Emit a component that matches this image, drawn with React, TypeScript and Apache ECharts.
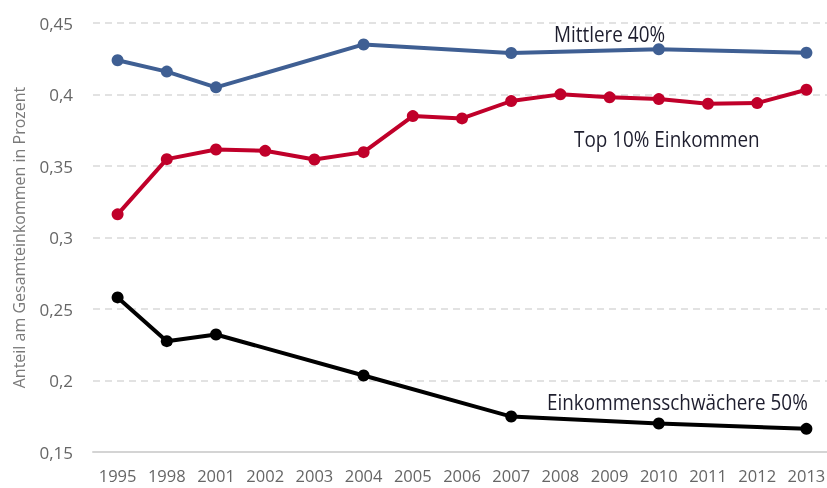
import React, { useEffect, useRef } from "react";
import * as echarts from "echarts";

const years = ["1995", "1998", "2001", "2002", "2003", "2004", "2005", "2006", "2007", "2008", "2009", "2010", "2011", "2012", "2013"];
const middle40 = [0.424, 0.416, 0.405, null, null, 0.435, null, null, 0.429, null, null, 0.4316, null, null, 0.4292];
const top10 = [0.3162, 0.3548, 0.3615, 0.3606, 0.3545, 0.3597, 0.3849, 0.3833, 0.3954, 0.4001, 0.398, 0.3968, 0.3935, 0.394, 0.4033];
const bottom50 = [0.2581, 0.2275, 0.2322, null, null, 0.2035, null, null, 0.1748, null, null, 0.1699, null, null, 0.1662];
const yAxisName = "Anteil am Gesamteinkommen in Prozent";
const seriesNames = ["Mittlere 40%", "Top 10% Einkommen", "Einkommensschwächere 50%"];

const FONT = "Open Sans";

export default function App() {
  const ref = useRef<HTMLDivElement>(null);
  useEffect(() => {
    if (!ref.current) return;
    const chart = echarts.init(ref.current, null, { renderer: "svg" });
    const mkSeries = (name: string, data: (number | null)[], color: string) => ({
      name,
      type: "line",
      data,
      connectNulls: true,
      symbol: "circle",
      symbolSize: 12,
      showSymbol: true,
      lineStyle: { color, width: 4 },
      itemStyle: { color },
    });
    const note = (text: string, x: number, y: number) => ({
      type: "text",
      x,
      y,
      scaleX: 0.9,
      style: { text, fill: "#1e1e2e", font: `21px '${FONT}'`, align: "left", verticalAlign: "middle" },
    });
    chart.setOption({
      animation: false,
      grid: { left: 93, top: 23, width: 738, bottom: 36, outerBoundsMode: "none", containLabel: false },
      xAxis: {
        type: "category",
        data: years,
        boundaryGap: true,
        axisLine: { show: true, lineStyle: { color: "#d4d4d4", width: 2 } },
        axisTick: { show: false },
        axisLabel: { color: "#666666", fontFamily: FONT, fontSize: 16.5, margin: 15, interval: 0 },
      },
      yAxis: {
        type: "value",
        min: 0.15,
        max: 0.45,
        interval: 0.05,
        name: yAxisName,
        nameLocation: "middle",
        nameGap: 66,
        nameTextStyle: { color: "#7a7a7a", fontFamily: FONT, fontSize: 16 },
        axisLine: { show: false },
        axisTick: { show: false },
        splitLine: { lineStyle: { color: "#d9d9d9", type: [7, 5], width: 1.5 } },
        axisLabel: {
          color: "#666666",
          fontFamily: FONT,
          fontSize: 17,
          margin: 20,
          formatter: (v: number) => String(parseFloat(v.toFixed(2))).replace(".", ","),
        },
      },
      series: [
        mkSeries(seriesNames[0], middle40, "#3f5f93"),
        mkSeries(seriesNames[1], top10, "#c0002a"),
        mkSeries(seriesNames[2], bottom50, "#000000"),
      ],
      graphic: [
        note(seriesNames[0], 554, 34),
        note(seriesNames[1], 574, 139),
        note(seriesNames[2], 547, 402),
      ],
    });
    return () => chart.dispose();
  }, []);
  return <div ref={ref} style={{ position: "fixed", left: 0, top: 0, width: 827, height: 488 }} />;
}
